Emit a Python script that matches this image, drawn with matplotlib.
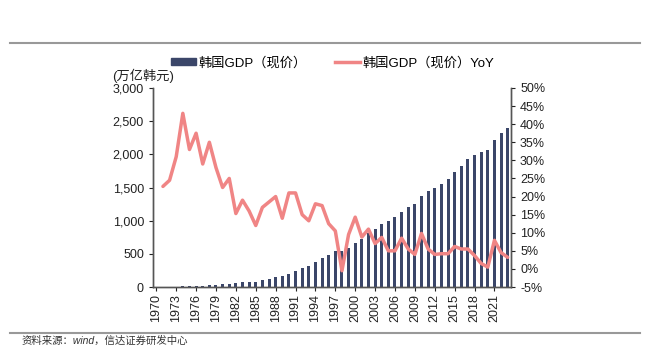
import numpy as np
import matplotlib
matplotlib.use("Agg")
import matplotlib.pyplot as plt
from matplotlib.ticker import FuncFormatter, MultipleLocator
from matplotlib.lines import Line2D

plt.rcParams['font.family'] = ['Liberation Sans', 'Noto Sans CJK SC', 'DejaVu Sans']

years = list(range(1970, 2024))
# 韩国GDP（现价），万亿韩元
gdp = [2.8, 3.4, 4.2, 5.5, 7.8, 10.5, 14.5, 18.7, 25.2, 32.2,
       39.5, 49.4, 57.0, 68.0, 78.6, 80, 106, 121, 151, 166,
       201, 246, 281, 317, 377, 437, 487, 548, 543, 593,
       660, 719, 819, 870, 945, 990, 1050, 1130, 1200, 1250,
       1375, 1440, 1500, 1560, 1630, 1740, 1830, 1925, 1995, 2040,
       2058, 2222, 2324, 2401]
# YoY，%（1971年起）
yoy_years = list(range(1971, 2024))
yoy = [22.8, 24.5, 31.0, 43.0, 33.0, 37.5, 29.0, 35.0, 28.0, 22.5,
       25.0, 15.3, 19.0, 16.0, 12.0, 17.0, 18.5, 20.0, 14.0, 21.0,
       21.0, 15.0, 13.3, 18.0, 17.5, 12.5, 10.5, -0.5, 9.5, 14.3,
       8.8, 11.0, 7.0, 8.7, 5.0, 5.0, 8.5, 5.5, 4.0, 9.8,
       5.5, 4.0, 4.2, 4.2, 6.2, 5.5, 5.5, 3.7, 1.5, 0.5,
       7.9, 4.5, 3.2]

BAR = "#3b4669"
LINE = "#f08585"
AX = "#555555"

fig = plt.figure(figsize=(6.6, 3.59), dpi=100)
ax = fig.add_axes([153 / 660, 1 - 287 / 359, 358 / 660, 199 / 359])

x = np.arange(len(years))
ax.bar(x, gdp, width=0.45, color=BAR, zorder=2)
ax.set_xlim(-0.5, len(years) - 0.5)
ax.set_ylim(0, 3000)
ax.yaxis.set_major_locator(MultipleLocator(500))
ax.yaxis.set_major_formatter(FuncFormatter(lambda v, p: f"{int(v):,}"))
tick_idx = [i for i, y in enumerate(years) if (y - 1970) % 3 == 0]
ax.set_xticks(tick_idx)
ax.set_xticklabels([str(years[i]) for i in tick_idx], rotation=90)

ax2 = ax.twinx()
xl = [years.index(y) for y in yoy_years]
ax2.plot(xl, yoy, color=LINE, lw=2.5, solid_joinstyle="round", solid_capstyle="round", zorder=3)
ax2.set_ylim(-5, 50)
ax2.yaxis.set_major_locator(MultipleLocator(5))
ax2.yaxis.set_major_formatter(FuncFormatter(lambda v, p: f"{int(round(v))}%"))

for a in (ax, ax2):
    a.spines['top'].set_visible(False)
    for s in ('left', 'right', 'bottom'):
        a.spines[s].set_color(AX)
        a.spines[s].set_linewidth(1.0)
    a.tick_params(colors="#222222", labelsize=9, length=3, width=0.8)
ax.tick_params(axis='x', pad=2)
ax.set_zorder(ax2.get_zorder() - 1)
ax.patch.set_visible(False)

handles = [plt.Rectangle((0, 0), 1, 1, color=BAR),
           Line2D([0], [0], color=LINE, lw=2.5)]
fig.legend(handles, ["韩国GDP（现价）", "韩国GDP（现价）YoY"], loc="center left",
           bbox_to_anchor=(171 / 660, 1 - 63 / 359), ncol=2, frameon=False,
           fontsize=9.5, handlelength=1.9, handletextpad=0.15, columnspacing=2.2,
           borderpad=0, borderaxespad=0, handleheight=0.5)

fig.text(143 / 660, 1 - 76 / 359, "(万亿韩元)", fontsize=9.5, ha="center", va="center", color="#222222")

fig.add_artist(Line2D([10 / 660, 640 / 660], [1 - 43 / 359] * 2, color="#999999", lw=1.5))
fig.add_artist(Line2D([10 / 660, 640 / 660], [1 - 333 / 359] * 2, color="#999999", lw=1.5))
fig.text(22 / 660, 1 - 341 / 359, "资料来源：wind，信达证券研发中心", fontsize=7.5, ha="left",
         va="center", color="#333333", style="italic")

fig.savefig("out.png", dpi=100)
